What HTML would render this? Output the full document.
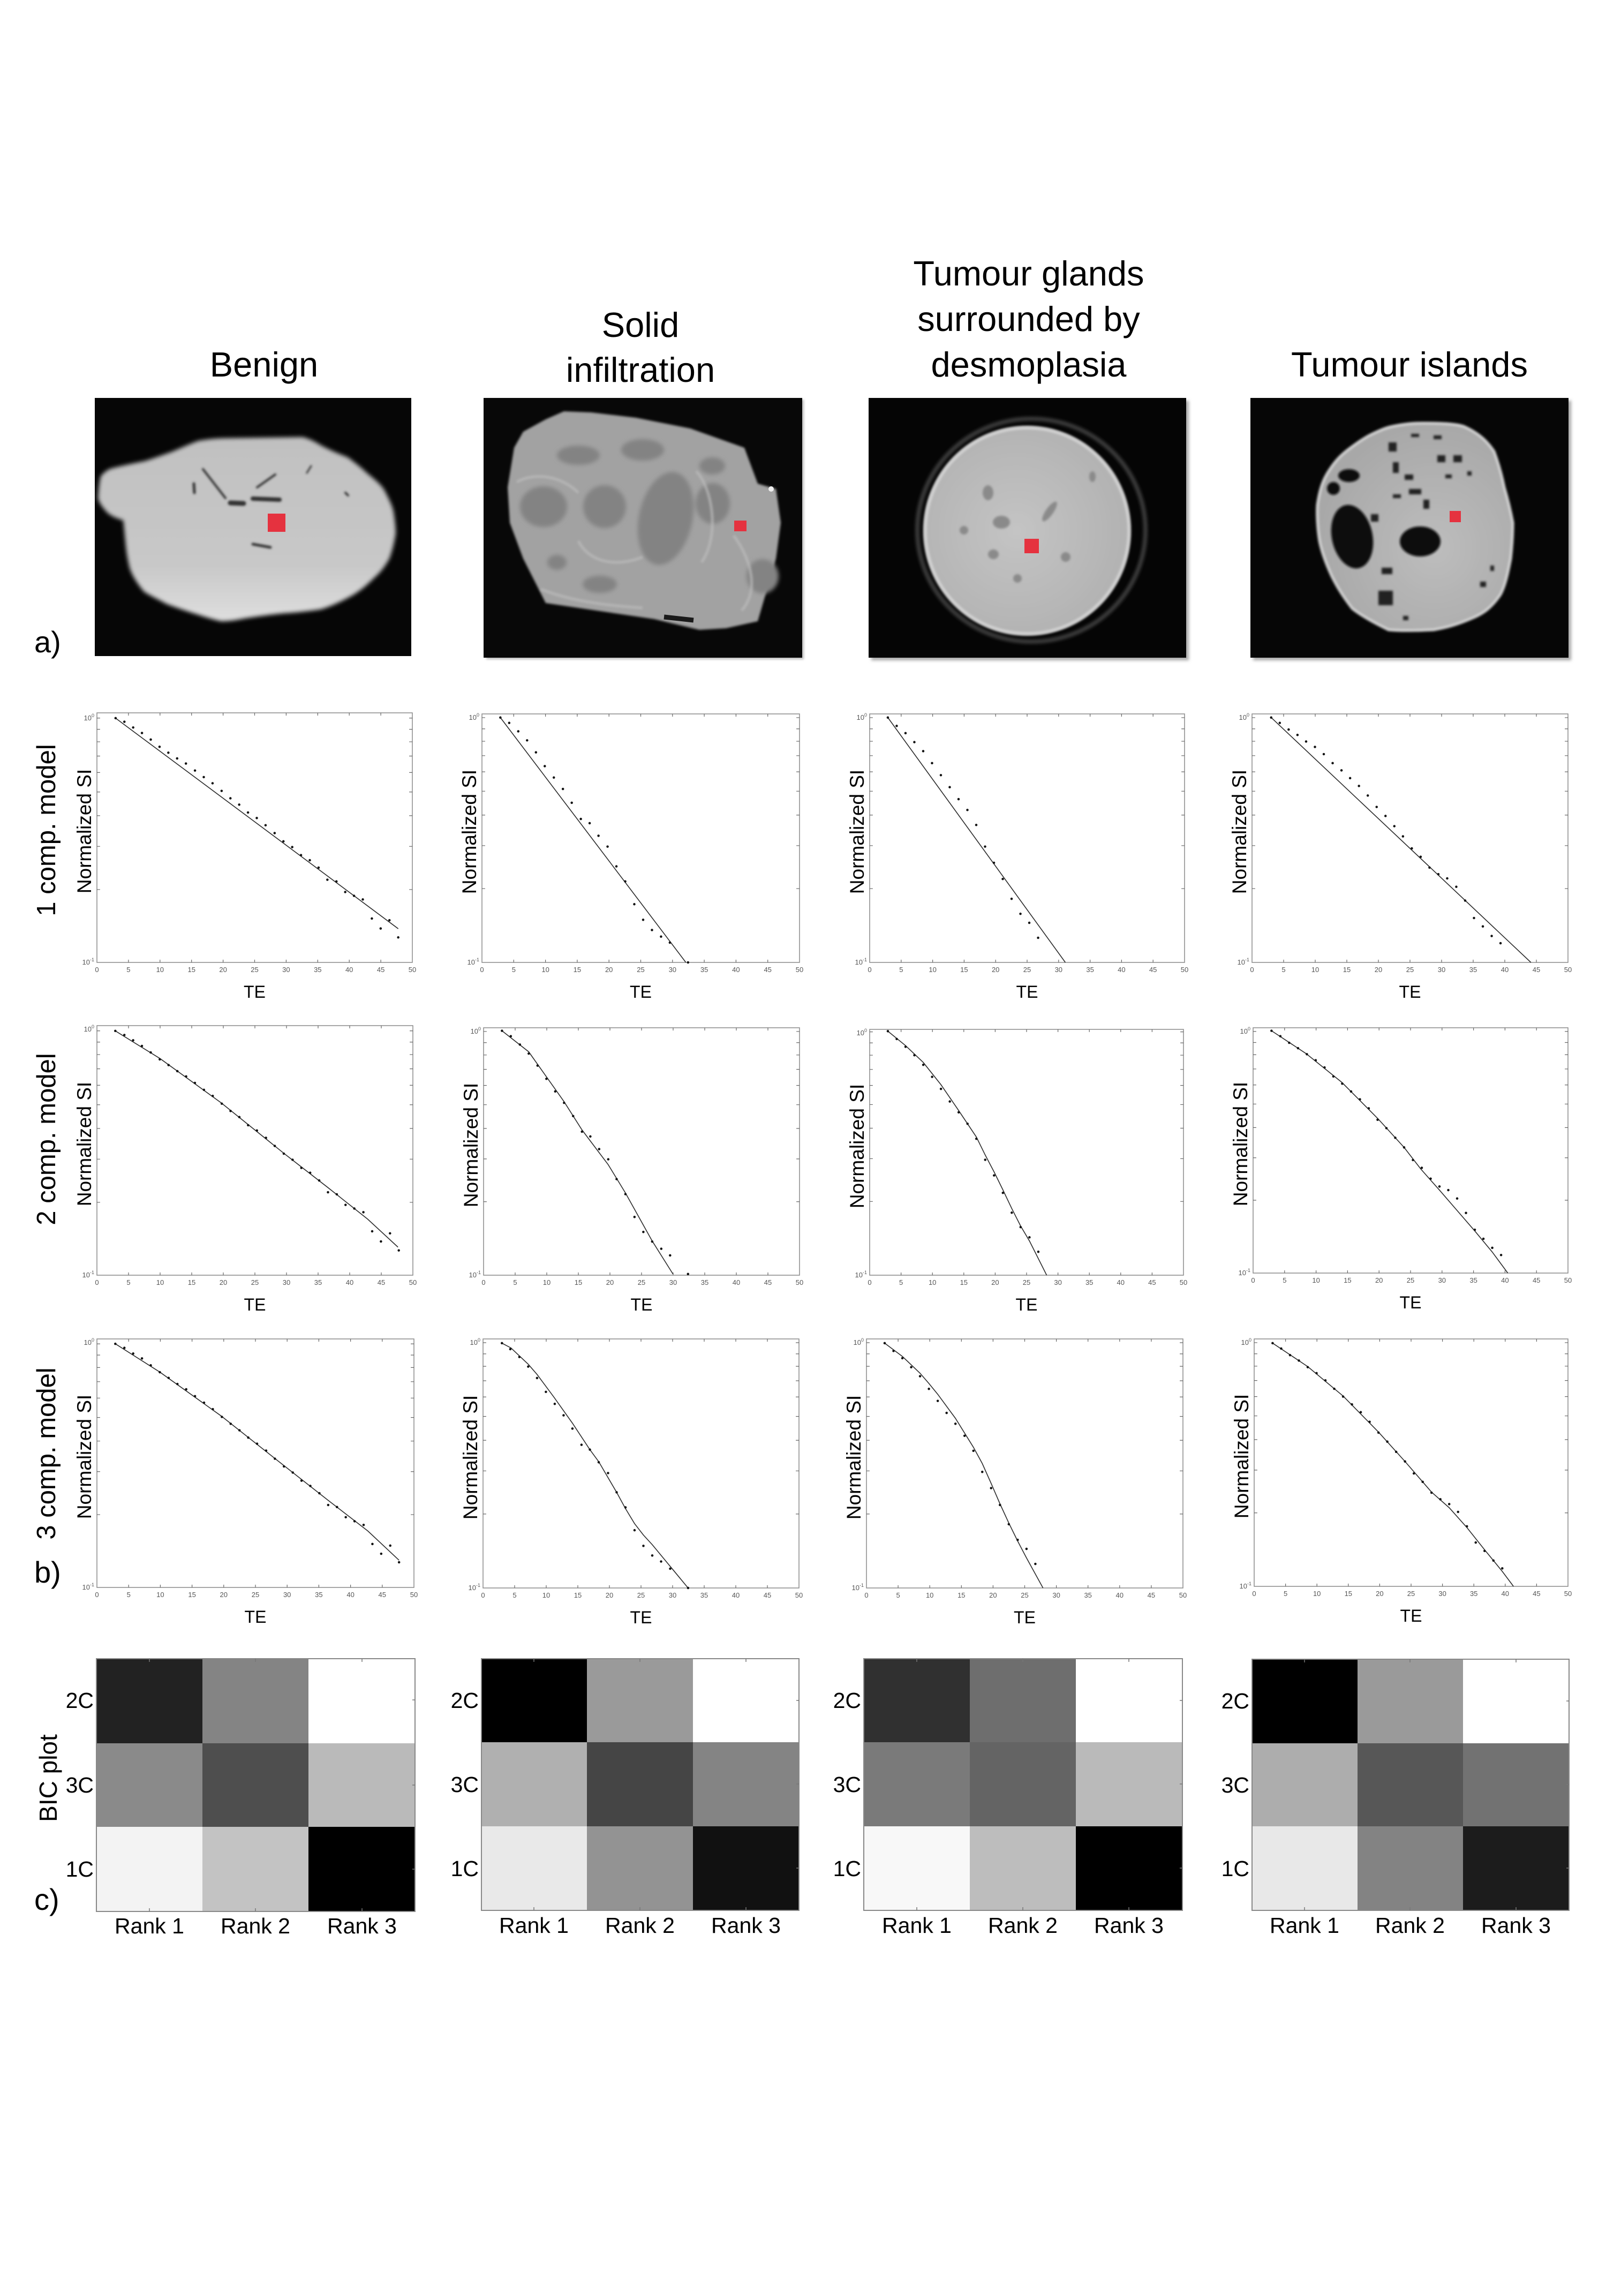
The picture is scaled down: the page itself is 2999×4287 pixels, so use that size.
<!DOCTYPE html>
<html><head><meta charset="utf-8"><style>
html,body{margin:0;padding:0}
body{width:2999px;height:4287px;position:relative;background:#fff;overflow:hidden;font-family:"Liberation Sans",sans-serif;color:#000}
#main{position:absolute;left:0;top:0}
.p{position:absolute}
.p svg{position:absolute;left:0;top:0;width:100%;height:100%;overflow:visible}
.xt{position:absolute;left:-5%;width:110%;top:calc(100% + 7px);display:grid;grid-template-columns:repeat(11,1fr);text-align:center;font-size:13px;line-height:14px;color:#555}
.yl{position:absolute;right:calc(100% + 5px);font-size:13px;line-height:14px;color:#555;white-space:nowrap}
.yl span{font-size:9px;position:relative;top:-6px}
.y0{top:calc(1.6% - 7px)}
.y1{top:calc(100% - 7px)}
.te{position:absolute;left:0;width:100%;text-align:center;top:calc(100% + 39px);font-size:32px;line-height:32px}
.ns{position:absolute;width:300px;height:34px;line-height:34px;text-align:center;left:-173px;top:calc(50% - 29px);font-size:37px;transform:rotate(-90deg);white-space:nowrap}
.fr{fill:none;stroke:#8a8a8a;stroke-width:1.5}
.tk{fill:none;stroke:#666;stroke-width:1.2}
.ln{fill:none;stroke:#2a2a2a;stroke-width:1.6}
.dt{fill:none;stroke:#111;stroke-width:4.5;stroke-linecap:round}
</style></head><body>

<svg id="main" width="2999" height="4287" viewBox="0 0 2999 4287" xmlns="http://www.w3.org/2000/svg">
<defs>
<filter id="b3" x="-10%" y="-10%" width="120%" height="120%"><feGaussianBlur stdDeviation="3"/></filter>
<filter id="b2" x="-10%" y="-10%" width="120%" height="120%"><feGaussianBlur stdDeviation="2"/></filter>
<filter id="b4" x="-10%" y="-10%" width="120%" height="120%"><feGaussianBlur stdDeviation="4"/></filter>
<linearGradient id="g1" x1="0" y1="0" x2="0" y2="1"><stop offset="0" stop-color="#c0c0c0"/><stop offset="0.7" stop-color="#c8c8c8"/><stop offset="1" stop-color="#dedede"/></linearGradient>
<radialGradient id="g3" cx="0.45" cy="0.5" r="0.6"><stop offset="0" stop-color="#c4c4c4"/><stop offset="1" stop-color="#b0b0b0"/></radialGradient>
<radialGradient id="g4" cx="0.6" cy="0.6" r="0.6"><stop offset="0" stop-color="#bdbdbd"/><stop offset="1" stop-color="#a8a8a8"/></radialGradient>
</defs>

<!-- Titles -->
<g font-family="Liberation Sans, sans-serif" font-size="65" text-anchor="middle" fill="#000">
<text x="493" y="703">Benign</text>
<text x="1196" y="629">Solid</text>
<text x="1196" y="713">infiltration</text>
<text x="1921" y="533">Tumour glands</text>
<text x="1921" y="618">surrounded by</text>
<text x="1921" y="703">desmoplasia</text>
<text x="2632" y="703">Tumour islands</text>
</g>

<!-- Image 1 Benign -->
<rect x="177" y="743" width="591" height="482" fill="#060606"/>
<path filter="url(#b4)" fill="url(#g1)" stroke="url(#g1)" stroke-width="4" stroke-linejoin="round" d="M371 825 C395 821 410 820 430 820 L565 818 C580 822 590 828 598 833 C620 845 635 850 649 856 C665 868 675 876 682 883 C700 898 710 906 716 916 C726 935 731 946 733 956 C736 975 737 985 737 996 C734 1015 730 1030 725 1043 C715 1060 708 1068 699 1076 C680 1095 670 1102 657 1110 C630 1125 612 1132 598 1136 C570 1140 550 1142 531 1143 C500 1146 475 1150 455 1153 C435 1157 425 1158 413 1158 C395 1154 383 1150 371 1146 C345 1138 328 1132 312 1126 C292 1115 280 1110 270 1103 C255 1085 248 1072 244 1060 C239 1040 237 1022 236 1010 C234 990 233 978 232 970 C215 965 208 961 202 956 C192 945 187 938 185 930 C186 910 188 898 190 890 C197 882 203 878 211 876 C235 870 255 866 270 863 C290 857 305 851 320 846 C340 838 356 830 371 825 Z"/>
<g stroke="#333" stroke-linecap="round" fill="none" filter="url(#b2)">
<path d="M362 903 L363 920" stroke-width="5"/>
<path d="M379 876 L421 930" stroke-width="4"/>
<path d="M430 939 L455 940" stroke-width="9"/>
<path d="M472 931 L522 933" stroke-width="8"/>
<path d="M514 886 L480 910" stroke-width="4"/>
<path d="M581 870 L573 883" stroke-width="3"/>
<path d="M472 1016 L505 1022" stroke-width="5"/>
<path d="M645 920 L650 925" stroke-width="4"/>
</g>
<rect x="500" y="959" width="33" height="34" fill="#e5323f"/>

<!-- Image 2 Solid infiltration -->
<rect x="908" y="746" width="593" height="485" fill="#bbb" filter="url(#b2)"/>
<rect x="903" y="743" width="595" height="485" fill="#080808"/>
<path filter="url(#b2)" fill="#a2a2a2" d="M1053 768 L1104 770 L1188 780 L1289 800 L1390 836 L1415 903 L1449 913 L1458 976 L1449 1043 L1415 1160 L1356 1173 L1306 1176 L1222 1156 L1019 1126 L977 1043 L952 976 L948 910 L960 836 L977 806 L1019 783 Z"/>
<g fill="#838383" filter="url(#b4)">
<ellipse cx="1015" cy="946" rx="44" ry="38"/>
<ellipse cx="1129" cy="946" rx="40" ry="40"/>
<ellipse cx="1243" cy="968" rx="50" ry="88" transform="rotate(12 1243 968)"/>
<ellipse cx="1331" cy="940" rx="32" ry="38"/>
<ellipse cx="1120" cy="1091" rx="32" ry="16"/>
<ellipse cx="1424" cy="1076" rx="30" ry="32"/>
<ellipse cx="1080" cy="850" rx="40" ry="18"/>
<ellipse cx="1200" cy="840" rx="40" ry="20"/>
<ellipse cx="1330" cy="870" rx="24" ry="16"/>
<ellipse cx="1040" cy="1050" rx="18" ry="14"/>
</g>
<g stroke="#bdbdbd" stroke-width="5" fill="none" filter="url(#b2)" opacity="0.7">
<path d="M965 900 C1000 880 1050 890 1080 920"/>
<path d="M1080 1010 C1100 1050 1150 1060 1200 1040"/>
<path d="M1300 880 C1330 910 1345 1000 1310 1050"/>
<path d="M1370 1000 C1400 1040 1420 1100 1385 1140"/>
<path d="M1010 1100 C1060 1120 1120 1130 1200 1135"/>
</g>
<path d="M1240 1152 L1295 1158" stroke="#1a1a1a" stroke-width="9"/>
<circle cx="1440" cy="913" r="5" fill="#eee"/>
<rect x="1371" y="972" width="23" height="20" fill="#e5323f"/>

<!-- Image 3 Tumour glands -->
<rect x="1627" y="748" width="593" height="485" fill="#aaa" filter="url(#b3)"/>
<rect x="1622" y="743" width="593" height="485" fill="#050505"/>
<ellipse cx="1926" cy="990" rx="213" ry="208" fill="none" stroke="#3a3a3a" stroke-width="8" filter="url(#b3)"/>
<ellipse cx="1918" cy="991" rx="194" ry="196" fill="url(#g3)" filter="url(#b2)"/>
<ellipse cx="1918" cy="991" rx="190" ry="192" fill="none" stroke="#dedede" stroke-width="5" filter="url(#b2)" opacity="0.8"/>
<g fill="#8a8a8a" filter="url(#b2)">
<ellipse cx="1845" cy="920" rx="10" ry="14"/>
<ellipse cx="1870" cy="975" rx="16" ry="12"/>
<ellipse cx="1960" cy="955" rx="7" ry="22" transform="rotate(35 1960 955)"/>
<ellipse cx="1990" cy="1040" rx="9" ry="9"/>
<ellipse cx="1855" cy="1035" rx="10" ry="9"/>
<ellipse cx="1900" cy="1080" rx="8" ry="8"/>
<ellipse cx="2040" cy="890" rx="6" ry="10"/>
<ellipse cx="1800" cy="990" rx="8" ry="8"/>
</g>
<rect x="1913" y="1006" width="27" height="27" fill="#e5323f"/>

<!-- Image 4 Tumour islands -->
<rect x="2340" y="748" width="594" height="485" fill="#aaa" filter="url(#b3)"/>
<rect x="2335" y="743" width="594" height="485" fill="#060606"/>
<path filter="url(#b2)" fill="url(#g4)" stroke="#d4d4d4" stroke-width="5" d="M2658 790 C2700 790 2720 792 2733 796 C2765 810 2780 828 2790 843 C2800 870 2805 890 2809 910 C2818 940 2822 960 2825 976 C2825 1000 2823 1025 2821 1043 C2815 1075 2810 1095 2802 1110 C2785 1135 2770 1145 2752 1153 C2720 1167 2700 1172 2677 1176 C2640 1178 2615 1178 2593 1176 C2560 1160 2540 1148 2525 1136 C2505 1110 2495 1092 2487 1076 C2475 1050 2468 1030 2464 1010 C2460 985 2459 960 2460 943 C2464 915 2470 898 2479 883 C2492 862 2502 852 2513 843 C2535 826 2550 816 2563 810 C2580 802 2590 798 2601 796 C2625 791 2640 790 2658 790 Z"/>
<g fill="#0e0e0e" filter="url(#b2)">
<ellipse cx="2525" cy="1002" rx="38" ry="60" transform="rotate(-12 2525 1002)"/>
<ellipse cx="2652" cy="1011" rx="38" ry="28"/>
<ellipse cx="2519" cy="888" rx="20" ry="12"/>
<ellipse cx="2490" cy="912" rx="12" ry="12"/>
</g>
<g fill="#222" filter="url(#b2)">
<rect x="2593" y="826" width="15" height="17"/><rect x="2601" y="863" width="11" height="20"/>
<rect x="2623" y="886" width="16" height="10"/><rect x="2658" y="933" width="11" height="17"/>
<rect x="2684" y="850" width="15" height="13"/><rect x="2714" y="850" width="16" height="13"/>
<rect x="2699" y="886" width="12" height="7"/><rect x="2635" y="810" width="15" height="6"/>
<rect x="2677" y="813" width="15" height="7"/><rect x="2601" y="923" width="15" height="7"/>
<rect x="2631" y="913" width="23" height="10"/><rect x="2574" y="1103" width="27" height="27"/>
<rect x="2764" y="1086" width="11" height="10"/><rect x="2783" y="1056" width="7" height="10"/>
<rect x="2560" y="960" width="14" height="14"/><rect x="2580" y="1060" width="20" height="12"/>
<rect x="2740" y="880" width="8" height="8"/><rect x="2620" y="1150" width="10" height="8"/>
</g>
<rect x="2707" y="954" width="21" height="21" fill="#e5323f"/>

<!-- Section labels -->
<g font-family="Liberation Sans, sans-serif" fill="#000">
<text x="64" y="1218" font-size="56">a)</text>
<text x="64" y="2955" font-size="56">b)</text>
<text x="64" y="3566" font-size="56">c)</text>
<text x="87" y="1550" font-size="49" text-anchor="middle" dominant-baseline="central" transform="rotate(-90 87 1550)">1 comp. model</text>
<text x="87" y="2127" font-size="49" text-anchor="middle" dominant-baseline="central" transform="rotate(-90 87 2127)">2 comp. model</text>
<text x="87" y="2714" font-size="49" text-anchor="middle" dominant-baseline="central" transform="rotate(-90 87 2714)">3 comp. model</text>
<text x="90" y="3320" font-size="46" text-anchor="middle" dominant-baseline="central" transform="rotate(-90 90 3320)">BIC plot</text>
</g>

<!-- BIC grids -->
<g>
<rect x="180" y="3097" width="198" height="158" fill="#222"/><rect x="378" y="3097" width="198" height="158" fill="#848484"/><rect x="576" y="3097" width="199" height="158" fill="#fff"/>
<rect x="180" y="3255" width="198" height="156" fill="#8a8a8a"/><rect x="378" y="3255" width="198" height="156" fill="#4e4e4e"/><rect x="576" y="3255" width="199" height="156" fill="#bababa"/>
<rect x="180" y="3411" width="198" height="158" fill="#f3f3f3"/><rect x="378" y="3411" width="198" height="158" fill="#c3c3c3"/><rect x="576" y="3411" width="199" height="158" fill="#000"/>
<rect x="180" y="3097" width="595" height="472" fill="none" stroke="#888" stroke-width="2"/>

<rect x="899" y="3097" width="197" height="156" fill="#000"/><rect x="1096" y="3097" width="198" height="156" fill="#9a9a9a"/><rect x="1294" y="3097" width="198" height="156" fill="#fff"/>
<rect x="899" y="3253" width="197" height="157" fill="#b0b0b0"/><rect x="1096" y="3253" width="198" height="157" fill="#454545"/><rect x="1294" y="3253" width="198" height="157" fill="#848484"/>
<rect x="899" y="3410" width="197" height="157" fill="#e9e9e9"/><rect x="1096" y="3410" width="198" height="157" fill="#939393"/><rect x="1294" y="3410" width="198" height="157" fill="#111"/>
<rect x="899" y="3097" width="593" height="470" fill="none" stroke="#888" stroke-width="2"/>

<rect x="1613" y="3097" width="198" height="156" fill="#303030"/><rect x="1811" y="3097" width="198" height="156" fill="#6e6e6e"/><rect x="2009" y="3097" width="199" height="156" fill="#fff"/>
<rect x="1613" y="3253" width="198" height="157" fill="#7a7a7a"/><rect x="1811" y="3253" width="198" height="157" fill="#646464"/><rect x="2009" y="3253" width="199" height="157" fill="#bababa"/>
<rect x="1613" y="3410" width="198" height="157" fill="#f8f8f8"/><rect x="1811" y="3410" width="198" height="157" fill="#bdbdbd"/><rect x="2009" y="3410" width="199" height="157" fill="#000"/>
<rect x="1613" y="3097" width="595" height="470" fill="none" stroke="#888" stroke-width="2"/>

<rect x="2338" y="3098" width="197" height="157" fill="#000"/><rect x="2535" y="3098" width="197" height="157" fill="#9a9a9a"/><rect x="2732" y="3098" width="198" height="157" fill="#fff"/>
<rect x="2338" y="3255" width="197" height="155" fill="#adadad"/><rect x="2535" y="3255" width="197" height="155" fill="#575757"/><rect x="2732" y="3255" width="198" height="155" fill="#727272"/>
<rect x="2338" y="3410" width="197" height="157" fill="#e8e8e8"/><rect x="2535" y="3410" width="197" height="157" fill="#838383"/><rect x="2732" y="3410" width="198" height="157" fill="#1c1c1c"/>
<rect x="2338" y="3098" width="592" height="469" fill="none" stroke="#888" stroke-width="2"/>
</g>
<g stroke="#777" stroke-width="1.5">
<path d="M279 3569v-6M477 3569v-6M676 3569v-6M279 3097v6M477 3097v6M676 3097v6M775 3174h-5M775 3333h-5M775 3490h-5"/>
<path d="M997 3567v-6M1195 3567v-6M1393 3567v-6M997 3097v6M1195 3097v6M1393 3097v6M1492 3175h-5M1492 3331h-5M1492 3488h-5"/>
<path d="M1712 3567v-6M1910 3567v-6M2108 3567v-6M1712 3097v6M1910 3097v6M2108 3097v6M2208 3175h-5M2208 3331h-5M2208 3488h-5"/>
<path d="M2436 3567v-6M2633 3567v-6M2831 3567v-6M2436 3098v6M2633 3098v6M2831 3098v6M2930 3176h-5M2930 3332h-5M2930 3488h-5"/>
</g>
<g font-family="Liberation Sans, sans-serif" font-size="41" fill="#000" text-anchor="end">
<text x="175" y="3189">2C</text><text x="175" y="3347">3C</text><text x="175" y="3504">1C</text>
<text x="894" y="3189">2C</text><text x="894" y="3346">3C</text><text x="894" y="3503">1C</text>
<text x="1608" y="3189">2C</text><text x="1608" y="3346">3C</text><text x="1608" y="3503">1C</text>
<text x="2333" y="3190">2C</text><text x="2333" y="3347">3C</text><text x="2333" y="3503">1C</text>
</g>
<g font-family="Liberation Sans, sans-serif" font-size="41" fill="#000" text-anchor="middle">
<text x="279" y="3610">Rank 1</text><text x="477" y="3610">Rank 2</text><text x="676" y="3610">Rank 3</text>
<text x="997" y="3609">Rank 1</text><text x="1195" y="3609">Rank 2</text><text x="1393" y="3609">Rank 3</text>
<text x="1712" y="3609">Rank 1</text><text x="1910" y="3609">Rank 2</text><text x="2108" y="3609">Rank 3</text>
<text x="2436" y="3609">Rank 1</text><text x="2633" y="3609">Rank 2</text><text x="2831" y="3609">Rank 3</text>
</g>
</svg>

<!-- ===== Plots ===== -->
<!-- P11 -->
<div class="p" style="left:181px;top:1331px;width:589px;height:466px">
<svg viewBox="0 0 500 1000" preserveAspectRatio="none"><rect class="fr" x="0" y="0" width="500" height="1000" vector-effect="non-scaling-stroke"/><path class="tk" vector-effect="non-scaling-stroke" d="M50 1000V989M100 1000V989M150 1000V989M200 1000V989M250 1000V989M300 1000V989M350 1000V989M400 1000V989M450 1000V989M50 0V11M100 0V11M150 0V11M200 0V11M250 0V11M300 0V11M350 0V11M400 0V11M450 0V11M0 21h5M0 66h5M0 116h5M0 173h5M0 239h5M0 317h5M0 412h5M0 535h5M0 708h5M500 21h-5M500 66h-5M500 116h-5M500 173h-5M500 239h-5M500 317h-5M500 412h-5M500 535h-5M500 708h-5"/></svg>
<svg viewBox="283 130 1184 1177" preserveAspectRatio="none"><path class="ln" vector-effect="non-scaling-stroke" d="M353 155L1414 1148"/><path class="dt" vector-effect="non-scaling-stroke" d="M353 155h.1M386 172h.1M419 199h.1M452 225h.1M485 256h.1M518 290h.1M551 318h.1M584 345h.1M617 369h.1M651 402h.1M684 433h.1M717 462h.1M751 498h.1M784 533h.1M817 563h.1M850 600h.1M883 626h.1M916 660h.1M950 697h.1M983 736h.1M1016 763h.1M1049 801h.1M1082 825h.1M1115 860h.1M1148 917h.1M1182 925h.1M1215 975h.1M1248 993h.1M1281 1010h.1M1315 1100h.1M1348 1147h.1M1381 1108h.1M1414 1189h.1"/></svg>
<div class="xt"><span>0</span><span>5</span><span>10</span><span>15</span><span>20</span><span>25</span><span>30</span><span>35</span><span>40</span><span>45</span><span>50</span></div>
<div class="yl" style="top:calc(2.1% - 7px)">10<span>0</span></div><div class="yl y1">10<span>-1</span></div>
<div class="te">TE</div><div class="ns">Normalized SI</div>
</div>

<!-- P21 -->
<div class="p" style="left:181px;top:1915px;width:590px;height:466px">
<svg viewBox="0 0 500 1000" preserveAspectRatio="none"><rect class="fr" x="0" y="0" width="500" height="1000" vector-effect="non-scaling-stroke"/><path class="tk" vector-effect="non-scaling-stroke" d="M50 1000V989M100 1000V989M150 1000V989M200 1000V989M250 1000V989M300 1000V989M350 1000V989M400 1000V989M450 1000V989M50 0V11M100 0V11M150 0V11M200 0V11M250 0V11M300 0V11M350 0V11M400 0V11M450 0V11M0 21h5M0 66h5M0 116h5M0 173h5M0 239h5M0 317h5M0 412h5M0 535h5M0 708h5M500 21h-5M500 66h-5M500 116h-5M500 173h-5M500 239h-5M500 317h-5M500 412h-5M500 535h-5M500 708h-5"/></svg>
<svg viewBox="283 72 1187 614" preserveAspectRatio="none"><path class="ln" vector-effect="non-scaling-stroke" d="M352 85L520 153L750 262L985 386L1150 470L1300 548L1414 617"/><path class="dt" vector-effect="non-scaling-stroke" d="M352 85h.1M386 95h.1M419 108h.1M452 122h.1M485 138h.1M519 155h.1M552 169h.1M585 184h.1M618 197h.1M651 213h.1M685 230h.1M718 245h.1M752 264h.1M785 282h.1M818 297h.1M851 317h.1M884 330h.1M918 348h.1M951 368h.1M985 387h.1M1018 402h.1M1051 422h.1M1084 434h.1M1118 453h.1M1151 482h.1M1184 487h.1M1217 513h.1M1250 522h.1M1284 531h.1M1317 578h.1M1350 603h.1M1384 583h.1M1417 625h.1"/></svg>
<div class="xt"><span>0</span><span>5</span><span>10</span><span>15</span><span>20</span><span>25</span><span>30</span><span>35</span><span>40</span><span>45</span><span>50</span></div>
<div class="yl y0">10<span>0</span></div><div class="yl y1">10<span>-1</span></div>
<div class="te">TE</div><div class="ns">Normalized SI</div>
</div>

<!-- P31 -->
<div class="p" style="left:181px;top:2500px;width:592px;height:464px">
<svg viewBox="0 0 500 1000" preserveAspectRatio="none"><rect class="fr" x="0" y="0" width="500" height="1000" vector-effect="non-scaling-stroke"/><path class="tk" vector-effect="non-scaling-stroke" d="M50 1000V989M100 1000V989M150 1000V989M200 1000V989M250 1000V989M300 1000V989M350 1000V989M400 1000V989M450 1000V989M50 0V11M100 0V11M150 0V11M200 0V11M250 0V11M300 0V11M350 0V11M400 0V11M450 0V11M0 20h5M0 65h5M0 115h5M0 172h5M0 238h5M0 316h5M0 411h5M0 534h5M0 707h5M500 20h-5M500 65h-5M500 115h-5M500 172h-5M500 238h-5M500 316h-5M500 411h-5M500 534h-5M500 707h-5"/></svg>
<svg viewBox="283 843 1190 612" preserveAspectRatio="none"><path class="ln" vector-effect="non-scaling-stroke" d="M352 855L520 925L750 1033L985 1155L1150 1240L1300 1316L1417 1388"/><path class="dt" vector-effect="non-scaling-stroke" d="M352 855h.1M386 865h.1M419 879h.1M452 891h.1M485 908h.1M519 925h.1M552 939h.1M585 954h.1M618 967h.1M651 984h.1M685 1000h.1M718 1016h.1M752 1035h.1M785 1052h.1M818 1068h.1M851 1086h.1M884 1101h.1M918 1118h.1M951 1138h.1M985 1157h.1M1018 1172h.1M1051 1192h.1M1084 1205h.1M1118 1223h.1M1151 1252h.1M1184 1257h.1M1217 1282h.1M1250 1292h.1M1284 1301h.1M1317 1348h.1M1350 1372h.1M1384 1352h.1M1417 1393h.1"/></svg>
<div class="xt"><span>0</span><span>5</span><span>10</span><span>15</span><span>20</span><span>25</span><span>30</span><span>35</span><span>40</span><span>45</span><span>50</span></div>
<div class="yl y0">10<span>0</span></div><div class="yl y1">10<span>-1</span></div>
<div class="te">TE</div><div class="ns">Normalized SI</div>
</div>

<!-- P12 -->
<div class="p" style="left:900px;top:1333px;width:593px;height:464px">
<svg viewBox="0 0 500 1000" preserveAspectRatio="none"><rect class="fr" x="0" y="0" width="500" height="1000" vector-effect="non-scaling-stroke"/><path class="tk" vector-effect="non-scaling-stroke" d="M50 1000V989M100 1000V989M150 1000V989M200 1000V989M250 1000V989M300 1000V989M350 1000V989M400 1000V989M450 1000V989M50 0V11M100 0V11M150 0V11M200 0V11M250 0V11M300 0V11M350 0V11M400 0V11M450 0V11M0 15h5M0 60h5M0 110h5M0 168h5M0 233h5M0 311h5M0 407h5M0 530h5M0 703h5M500 15h-5M500 60h-5M500 110h-5M500 168h-5M500 233h-5M500 311h-5M500 407h-5M500 530h-5M500 703h-5"/></svg>
<svg viewBox="178 38 1330 414" preserveAspectRatio="none"><path class="ln" vector-effect="non-scaling-stroke" d="M255 44L1032 452"/><path class="dt" vector-effect="non-scaling-stroke" d="M255 44h.1M292 53h.1M330 67h.1M367 82h.1M404 102h.1M441 125h.1M479 144h.1M517 163h.1M554 186h.1M592 213h.1M629 220h.1M666 241h.1M704 259h.1M741 292h.1M778 317h.1M816 355h.1M853 381h.1M890 398h.1M928 409h.1M965 419h.1M1041 452h.1"/></svg>
<div class="xt"><span>0</span><span>5</span><span>10</span><span>15</span><span>20</span><span>25</span><span>30</span><span>35</span><span>40</span><span>45</span><span>50</span></div>
<div class="yl y0">10<span>0</span></div><div class="yl y1">10<span>-1</span></div>
<div class="te">TE</div><div class="ns">Normalized SI</div>
</div>

<!-- P22 -->
<div class="p" style="left:903px;top:1919px;width:590px;height:462px">
<svg viewBox="0 0 500 1000" preserveAspectRatio="none"><rect class="fr" x="0" y="0" width="500" height="1000" vector-effect="non-scaling-stroke"/><path class="tk" vector-effect="non-scaling-stroke" d="M50 1000V989M100 1000V989M150 1000V989M200 1000V989M250 1000V989M300 1000V989M350 1000V989M400 1000V989M450 1000V989M50 0V11M100 0V11M150 0V11M200 0V11M250 0V11M300 0V11M350 0V11M400 0V11M450 0V11M0 15h5M0 60h5M0 110h5M0 168h5M0 233h5M0 311h5M0 407h5M0 530h5M0 703h5M500 15h-5M500 60h-5M500 110h-5M500 168h-5M500 233h-5M500 311h-5M500 407h-5M500 530h-5M500 703h-5"/></svg>
<svg viewBox="185 560 1323 412" preserveAspectRatio="none"><path class="ln" vector-effect="non-scaling-stroke" d="M262 565L374 600L522 683L597 730L707 788L779 835L891 915L978 970"/><path class="dt" vector-effect="non-scaling-stroke" d="M262 565h.1M299 574h.1M337 588h.1M374 603h.1M411 623h.1M448 645h.1M485 666h.1M522 685h.1M560 707h.1M597 733h.1M632 741h.1M669 762h.1M707 779h.1M742 812h.1M779 837h.1M817 875h.1M854 900h.1M891 916h.1M929 928h.1M966 939h.1M1041 970h.1"/></svg>
<div class="xt"><span>0</span><span>5</span><span>10</span><span>15</span><span>20</span><span>25</span><span>30</span><span>35</span><span>40</span><span>45</span><span>50</span></div>
<div class="yl y0">10<span>0</span></div><div class="yl y1">10<span>-1</span></div>
<div class="te">TE</div><div class="ns">Normalized SI</div>
</div>

<!-- P32 -->
<div class="p" style="left:902px;top:2500px;width:590px;height:465px">
<svg viewBox="0 0 500 1000" preserveAspectRatio="none"><rect class="fr" x="0" y="0" width="500" height="1000" vector-effect="non-scaling-stroke"/><path class="tk" vector-effect="non-scaling-stroke" d="M50 1000V989M100 1000V989M150 1000V989M200 1000V989M250 1000V989M300 1000V989M350 1000V989M400 1000V989M450 1000V989M50 0V11M100 0V11M150 0V11M200 0V11M250 0V11M300 0V11M350 0V11M400 0V11M450 0V11M0 15h5M0 60h5M0 110h5M0 168h5M0 233h5M0 311h5M0 407h5M0 530h5M0 703h5M500 15h-5M500 60h-5M500 110h-5M500 168h-5M500 233h-5M500 311h-5M500 407h-5M500 530h-5M500 703h-5"/></svg>
<svg viewBox="183 1078 1322 414" preserveAspectRatio="none"><path class="ln" vector-effect="non-scaling-stroke" d="M262 1085L300 1093L372 1120L409 1137L480 1175L557 1218L630 1262L667 1282L742 1333L779 1360L817 1385L854 1404L891 1420L966 1456L1041 1492"/><path class="dt" vector-effect="non-scaling-stroke" d="M262 1085h.1M297 1095h.1M335 1108h.1M372 1124h.1M409 1143h.1M446 1166h.1M483 1186h.1M520 1205h.1M557 1227h.1M595 1254h.1M630 1262h.1M667 1283h.1M706 1301h.1M742 1333h.1M779 1358h.1M817 1396h.1M854 1422h.1M891 1438h.1M928 1448h.1M966 1460h.1M1041 1492h.1"/></svg>
<div class="xt"><span>0</span><span>5</span><span>10</span><span>15</span><span>20</span><span>25</span><span>30</span><span>35</span><span>40</span><span>45</span><span>50</span></div>
<div class="yl y0">10<span>0</span></div><div class="yl y1">10<span>-1</span></div>
<div class="te">TE</div><div class="ns">Normalized SI</div>
</div>

<!-- P13 -->
<div class="p" style="left:1624px;top:1333px;width:588px;height:464px">
<svg viewBox="0 0 500 1000" preserveAspectRatio="none"><rect class="fr" x="0" y="0" width="500" height="1000" vector-effect="non-scaling-stroke"/><path class="tk" vector-effect="non-scaling-stroke" d="M50 1000V989M100 1000V989M150 1000V989M200 1000V989M250 1000V989M300 1000V989M350 1000V989M400 1000V989M450 1000V989M50 0V11M100 0V11M150 0V11M200 0V11M250 0V11M300 0V11M350 0V11M400 0V11M450 0V11M0 15h5M0 60h5M0 110h5M0 168h5M0 233h5M0 311h5M0 407h5M0 530h5M0 703h5M500 15h-5M500 60h-5M500 110h-5M500 168h-5M500 233h-5M500 311h-5M500 407h-5M500 530h-5M500 703h-5"/></svg>
<svg viewBox="188 38 1318 414" preserveAspectRatio="none"><path class="ln" vector-effect="non-scaling-stroke" d="M264 44L1007 452"/><path class="dt" vector-effect="non-scaling-stroke" d="M264 44h.1M301 58h.1M338 70h.1M375 85h.1M412 100h.1M449 120h.1M486 140h.1M523 160h.1M560 180h.1M597 198h.1M634 223h.1M671 259h.1M708 286h.1M745 313h.1M782 346h.1M819 371h.1M856 386h.1M893 411h.1"/></svg>
<div class="xt"><span>0</span><span>5</span><span>10</span><span>15</span><span>20</span><span>25</span><span>30</span><span>35</span><span>40</span><span>45</span><span>50</span></div>
<div class="yl y0">10<span>0</span></div><div class="yl y1">10<span>-1</span></div>
<div class="te">TE</div><div class="ns">Normalized SI</div>
</div>

<!-- P23 -->
<div class="p" style="left:1624px;top:1922px;width:586px;height:459px">
<svg viewBox="0 0 500 1000" preserveAspectRatio="none"><rect class="fr" x="0" y="0" width="500" height="1000" vector-effect="non-scaling-stroke"/><path class="tk" vector-effect="non-scaling-stroke" d="M50 1000V989M100 1000V989M150 1000V989M200 1000V989M250 1000V989M300 1000V989M350 1000V989M400 1000V989M450 1000V989M50 0V11M100 0V11M150 0V11M200 0V11M250 0V11M300 0V11M350 0V11M400 0V11M450 0V11M0 10h5M0 55h5M0 105h5M0 163h5M0 228h5M0 306h5M0 402h5M0 526h5M0 700h5M500 10h-5M500 55h-5M500 105h-5M500 163h-5M500 228h-5M500 306h-5M500 402h-5M500 526h-5M500 700h-5"/></svg>
<svg viewBox="188 563 1312 409" preserveAspectRatio="none"><path class="ln" vector-effect="non-scaling-stroke" d="M264 566L338 590L412 618L486 655L560 698L634 742L671 772L708 800L745 830L782 861L819 890L856 915L928 972"/><path class="dt" vector-effect="non-scaling-stroke" d="M264 566h.1M301 579h.1M338 592h.1M375 606h.1M412 622h.1M449 642h.1M486 662h.1M523 683h.1M560 701h.1M597 720h.1M634 745h.1M671 780h.1M708 806h.1M745 835h.1M782 868h.1M819 892h.1M856 909h.1M893 933h.1"/></svg>
<div class="xt"><span>0</span><span>5</span><span>10</span><span>15</span><span>20</span><span>25</span><span>30</span><span>35</span><span>40</span><span>45</span><span>50</span></div>
<div class="yl y0">10<span>0</span></div><div class="yl y1">10<span>-1</span></div>
<div class="te">TE</div><div class="ns">Normalized SI</div>
</div>

<!-- P33 -->
<div class="p" style="left:1618px;top:2500px;width:591px;height:465px">
<svg viewBox="0 0 500 1000" preserveAspectRatio="none"><rect class="fr" x="0" y="0" width="500" height="1000" vector-effect="non-scaling-stroke"/><path class="tk" vector-effect="non-scaling-stroke" d="M50 1000V989M100 1000V989M150 1000V989M200 1000V989M250 1000V989M300 1000V989M350 1000V989M400 1000V989M450 1000V989M50 0V11M100 0V11M150 0V11M200 0V11M250 0V11M300 0V11M350 0V11M400 0V11M450 0V11M0 15h5M0 60h5M0 110h5M0 168h5M0 233h5M0 311h5M0 407h5M0 530h5M0 703h5M500 15h-5M500 60h-5M500 110h-5M500 168h-5M500 233h-5M500 311h-5M500 407h-5M500 530h-5M500 703h-5"/></svg>
<svg viewBox="175 1078 1323 414" preserveAspectRatio="none"><path class="ln" vector-effect="non-scaling-stroke" d="M251 1085L325 1107L399 1135L436 1152L473 1170L547 1210L622 1258L659 1285L696 1318L733 1352L770 1384L807 1414L844 1442L913 1492"/><path class="dt" vector-effect="non-scaling-stroke" d="M251 1085h.1M288 1098h.1M325 1110h.1M362 1125h.1M399 1140h.1M436 1161h.1M473 1181h.1M510 1201h.1M547 1219h.1M585 1239h.1M622 1264h.1M659 1299h.1M696 1326h.1M733 1354h.1M770 1386h.1M807 1412h.1M844 1427h.1M881 1452h.1"/></svg>
<div class="xt"><span>0</span><span>5</span><span>10</span><span>15</span><span>20</span><span>25</span><span>30</span><span>35</span><span>40</span><span>45</span><span>50</span></div>
<div class="yl y0">10<span>0</span></div><div class="yl y1">10<span>-1</span></div>
<div class="te">TE</div><div class="ns">Normalized SI</div>
</div>

<!-- P14 -->
<div class="p" style="left:2338px;top:1333px;width:590px;height:464px">
<svg viewBox="0 0 500 1000" preserveAspectRatio="none"><rect class="fr" x="0" y="0" width="500" height="1000" vector-effect="non-scaling-stroke"/><path class="tk" vector-effect="non-scaling-stroke" d="M50 1000V989M100 1000V989M150 1000V989M200 1000V989M250 1000V989M300 1000V989M350 1000V989M400 1000V989M450 1000V989M50 0V11M100 0V11M150 0V11M200 0V11M250 0V11M300 0V11M350 0V11M400 0V11M450 0V11M0 15h5M0 60h5M0 110h5M0 168h5M0 233h5M0 311h5M0 407h5M0 530h5M0 703h5M500 15h-5M500 60h-5M500 110h-5M500 168h-5M500 233h-5M500 311h-5M500 407h-5M500 530h-5M500 703h-5"/></svg>
<svg viewBox="175 38 1321 414" preserveAspectRatio="none"><path class="ln" vector-effect="non-scaling-stroke" d="M255 44L1341 452"/><path class="dt" vector-effect="non-scaling-stroke" d="M255 44h.1M291 53h.1M328 64h.1M365 73h.1M401 84h.1M438 93h.1M475 105h.1M512 120h.1M549 132h.1M585 145h.1M622 158h.1M659 174h.1M696 193h.1M733 208h.1M770 225h.1M806 242h.1M843 262h.1M880 276h.1M917 294h.1M954 305h.1M991 312h.1M1029 326h.1M1066 349h.1M1103 378h.1M1140 392h.1M1177 408h.1M1214 420h.1"/></svg>
<div class="xt"><span>0</span><span>5</span><span>10</span><span>15</span><span>20</span><span>25</span><span>30</span><span>35</span><span>40</span><span>45</span><span>50</span></div>
<div class="yl y0">10<span>0</span></div><div class="yl y1">10<span>-1</span></div>
<div class="te">TE</div><div class="ns">Normalized SI</div>
</div>

<!-- P24 -->
<div class="p" style="left:2340px;top:1919px;width:588px;height:458px">
<svg viewBox="0 0 500 1000" preserveAspectRatio="none"><rect class="fr" x="0" y="0" width="500" height="1000" vector-effect="non-scaling-stroke"/><path class="tk" vector-effect="non-scaling-stroke" d="M50 1000V989M100 1000V989M150 1000V989M200 1000V989M250 1000V989M300 1000V989M350 1000V989M400 1000V989M450 1000V989M50 0V11M100 0V11M150 0V11M200 0V11M250 0V11M300 0V11M350 0V11M400 0V11M450 0V11M0 15h5M0 60h5M0 110h5M0 168h5M0 233h5M0 311h5M0 407h5M0 530h5M0 703h5M500 15h-5M500 60h-5M500 110h-5M500 168h-5M500 233h-5M500 311h-5M500 407h-5M500 530h-5M500 703h-5"/></svg>
<svg viewBox="178 560 1318 408" preserveAspectRatio="none"><path class="ln" vector-effect="non-scaling-stroke" d="M255 565L400 603L550 651L700 711L810 759L880 795L958 830L1032 864L1106 898L1179 933L1244 968"/><path class="dt" vector-effect="non-scaling-stroke" d="M255 565h.1M292 574h.1M329 585h.1M366 594h.1M403 604h.1M440 614h.1M477 626h.1M514 641h.1M551 653h.1M588 666h.1M625 679h.1M662 694h.1M699 713h.1M736 727h.1M773 743h.1M810 759h.1M847 780h.1M884 793h.1M921 811h.1M958 824h.1M995 830h.1M1032 844h.1M1069 868h.1M1106 896h.1M1142 911h.1M1179 926h.1M1216 938h.1"/></svg>
<div class="xt"><span>0</span><span>5</span><span>10</span><span>15</span><span>20</span><span>25</span><span>30</span><span>35</span><span>40</span><span>45</span><span>50</span></div>
<div class="yl y0">10<span>0</span></div><div class="yl y1">10<span>-1</span></div>
<div class="te">TE</div><div class="ns">Normalized SI</div>
</div>

<!-- P34 -->
<div class="p" style="left:2342px;top:2500px;width:586px;height:462px">
<svg viewBox="0 0 500 1000" preserveAspectRatio="none"><rect class="fr" x="0" y="0" width="500" height="1000" vector-effect="non-scaling-stroke"/><path class="tk" vector-effect="non-scaling-stroke" d="M50 1000V989M100 1000V989M150 1000V989M200 1000V989M250 1000V989M300 1000V989M350 1000V989M400 1000V989M450 1000V989M50 0V11M100 0V11M150 0V11M200 0V11M250 0V11M300 0V11M350 0V11M400 0V11M450 0V11M0 15h5M0 60h5M0 110h5M0 168h5M0 233h5M0 311h5M0 407h5M0 530h5M0 703h5M500 15h-5M500 60h-5M500 110h-5M500 168h-5M500 233h-5M500 311h-5M500 407h-5M500 530h-5M500 703h-5"/></svg>
<svg viewBox="183 1078 1313 412" preserveAspectRatio="none"><path class="ln" vector-effect="non-scaling-stroke" d="M260 1085L407 1124L555 1173L703 1233L814 1282L925 1333L999 1359L1073 1392L1147 1429L1221 1465L1268 1490"/><path class="dt" vector-effect="non-scaling-stroke" d="M260 1085h.1M296 1094h.1M333 1105h.1M370 1114h.1M407 1125h.1M444 1135h.1M481 1147h.1M518 1161h.1M555 1174h.1M592 1187h.1M629 1200h.1M666 1216h.1M703 1234h.1M740 1249h.1M777 1266h.1M814 1282h.1M851 1302h.1M888 1316h.1M925 1334h.1M962 1345h.1M999 1353h.1M1036 1366h.1M1073 1390h.1M1110 1417h.1M1147 1431h.1M1184 1447h.1M1221 1460h.1"/></svg>
<div class="xt"><span>0</span><span>5</span><span>10</span><span>15</span><span>20</span><span>25</span><span>30</span><span>35</span><span>40</span><span>45</span><span>50</span></div>
<div class="yl y0">10<span>0</span></div><div class="yl y1">10<span>-1</span></div>
<div class="te">TE</div><div class="ns">Normalized SI</div>
</div>

</body></html>
